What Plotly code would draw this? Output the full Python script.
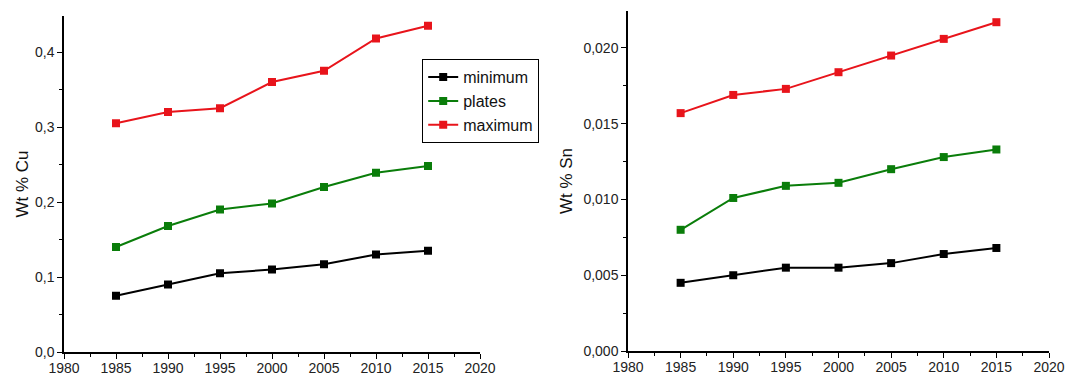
import plotly.graph_objects as go

years = [1985, 1990, 1995, 2000, 2005, 2010, 2015]

cu_minimum = [0.075, 0.090, 0.105, 0.110, 0.117, 0.130, 0.135]
cu_plates = [0.140, 0.168, 0.190, 0.198, 0.220, 0.239, 0.248]
cu_maximum = [0.305, 0.320, 0.325, 0.360, 0.375, 0.418, 0.435]

sn_minimum = [0.0045, 0.0050, 0.0055, 0.0055, 0.0058, 0.0064, 0.0068]
sn_plates = [0.0080, 0.0101, 0.0109, 0.0111, 0.0120, 0.0128, 0.0133]
sn_maximum = [0.0157, 0.0169, 0.0173, 0.0184, 0.0195, 0.0206, 0.0217]

series_names = ["minimum", "plates", "maximum"]
colors = ["#000000", "#0a7d0a", "#e8141b"]

x_ticks = [1980, 1985, 1990, 1995, 2000, 2005, 2010, 2015, 2020]

fig = go.Figure()

for name, color, vals in zip(series_names, colors, [cu_minimum, cu_plates, cu_maximum]):
    fig.add_trace(go.Scatter(x=years, y=vals, name=name, mode="lines+markers",
                             line=dict(color=color, width=2),
                             marker=dict(symbol="square", size=8, color=color),
                             xaxis="x", yaxis="y", showlegend=True))

for name, color, vals in zip(series_names, colors, [sn_minimum, sn_plates, sn_maximum]):
    fig.add_trace(go.Scatter(x=years, y=vals, name=name, mode="lines+markers",
                             line=dict(color=color, width=2),
                             marker=dict(symbol="square", size=8, color=color),
                             xaxis="x2", yaxis="y2", showlegend=False))

tickfont = dict(family="Liberation Sans, Arial, sans-serif", size=14, color="#222222")
titlefont = dict(family="Liberation Sans, Arial, sans-serif", size=17, color="#111111")

common_x = dict(range=[1980, 2020], tickvals=x_ticks, ticks="outside", ticklen=5, tickwidth=1.2,
                tickcolor="#000", showline=True, linecolor="#000", linewidth=1.5,
                showgrid=False, zeroline=False, tickfont=tickfont, automargin=False,
                ticklabelstandoff=-3,
                minor=dict(ticks="outside", ticklen=3, dtick=2.5, tickcolor="#000", showgrid=False))

fig.update_layout(
    width=1067, height=376,
    margin=dict(l=0, r=0, t=0, b=0, autoexpand=False),
    paper_bgcolor="white", plot_bgcolor="white",
    separators=",.",
    showlegend=True,
    xaxis=dict(domain=[64/1067, 480/1067], anchor="y", **common_x),
    xaxis2=dict(domain=[628/1067, 1049/1067], anchor="y2", **common_x),
    yaxis=dict(domain=[24/376, 360/376], anchor="x", range=[0, 0.448], dtick=0.1,
               tickformat=".1f", ticks="outside", ticklen=5, tickwidth=1.2, tickcolor="#000",
               showline=True, linecolor="#000", linewidth=1.5, showgrid=False, zeroline=False,
               tickfont=tickfont, automargin=False,
               minor=dict(ticks="outside", ticklen=3, dtick=0.05, tickcolor="#000", showgrid=False),
               title=dict(text="Wt % Cu", font=titlefont, standoff=2)),
    yaxis2=dict(domain=[25/376, 365/376], anchor="x2", range=[0, 0.02244], dtick=0.005,
                tickformat=".3f", ticks="outside", ticklen=5, tickwidth=1.2, tickcolor="#000",
                showline=True, linecolor="#000", linewidth=1.5, showgrid=False, zeroline=False,
                tickfont=tickfont, automargin=False,
                minor=dict(ticks="outside", ticklen=3, dtick=0.0025, tickcolor="#000", showgrid=False),
                title=dict(text="Wt % Sn", font=titlefont, standoff=6)),
    legend=dict(x=422/1067, y=1-59/376, xanchor="left", yanchor="top",
                bordercolor="#000", borderwidth=1.2, bgcolor="white",
                font=dict(family="Liberation Sans, Arial, sans-serif", size=16, color="#111"),
                tracegroupgap=0, itemwidth=30),
)

fig.write_html("out.html", config={"displayModeBar": False},
               post_script="document.body.style.margin='0';document.body.style.padding='0';")
